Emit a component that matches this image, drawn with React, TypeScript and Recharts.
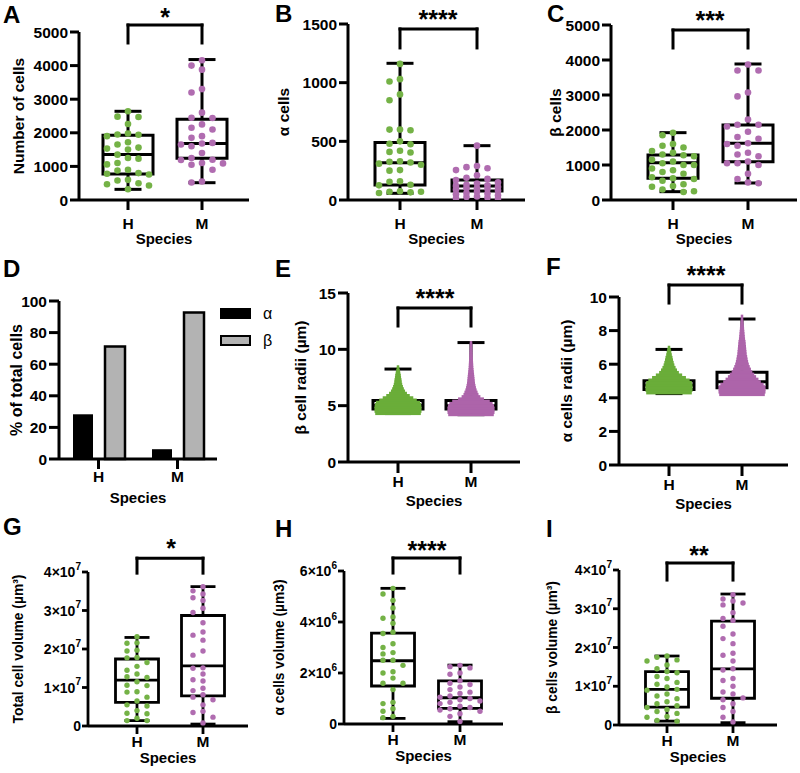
import React from "react";
import {
  ComposedChart,
  BarChart,
  Bar,
  XAxis,
  YAxis,
  Scatter,
  ReferenceArea,
  ReferenceLine,
  Legend,
} from "recharts";

const FONT = '"Liberation Sans", Arial, Helvetica, sans-serif';
const GREEN = "#74b246";
const PURPLE = "#b06cb0";
const GREEN_FILL = "#6aad39";
const PURPLE_FILL = "#ad64aa";
const GRAY = "#b3b3b3";

const SPECIES = ["H", "M"];

// box stats are [min, q1, median, q3, max]

// A - number of cells
const A_H = [2640, 2480, 2470, 2260, 1980, 1950, 1940, 1900, 1720, 1650, 1560, 1530, 1500, 1350, 1250, 1230, 1100, 1060, 900, 880, 800, 780, 760, 600, 580, 500, 470, 430, 320];
const A_M = [4160, 4000, 3880, 3300, 3200, 2600, 2450, 2440, 2250, 2150, 2100, 1900, 1850, 1700, 1680, 1650, 1600, 1400, 1250, 1200, 1190, 1100, 1090, 1050, 900, 550, 520];
const A_H_BOX = [317, 772, 1356, 1930, 2640];
const A_M_BOX = [515, 1240, 1680, 2400, 4180];

// B - alpha cells
const B_H = [1160, 1030, 1010, 900, 850, 600, 600, 595, 500, 480, 475, 420, 410, 405, 330, 325, 320, 310, 300, 255, 250, 160, 155, 130, 125, 75, 70, 70, 65, 60];
const B_M = [463, 290, 280, 270, 255, 210, 190, 180, 170, 150, 140, 130, 125, 120, 110, 100, 100, 95, 90, 80, 70, 60, 55, 50, 40, 30, 25, 20, 15, 10];
const B_H_BOX = [57, 128, 318, 489, 1165];
const B_M_BOX = [5, 77, 119, 170, 463];

// C - beta cells
const C_H = [1920, 1850, 1600, 1550, 1500, 1400, 1350, 1300, 1280, 1250, 1150, 1100, 1050, 1000, 1000, 900, 850, 800, 750, 650, 620, 600, 550, 450, 400, 380, 300, 250, 230];
const C_M = [3870, 3700, 3700, 3070, 2960, 2300, 2150, 2150, 2100, 1950, 1800, 1750, 1620, 1600, 1550, 1350, 1300, 1250, 1100, 1050, 1050, 1000, 750, 600, 500, 480];
const C_H_BOX = [238, 620, 1067, 1285, 1924];
const C_M_BOX = [486, 1095, 1619, 2143, 3886];

// D - % of total cells
const D_ALPHA = [28.3, 6.2];
const D_BETA = [71.2, 92.8];

// E - beta cell radii, dense dot clouds as relative width per level
const E_H_LEVELS = [4.3, 4.5, 4.7, 4.9, 5.1, 5.3, 5.5, 5.7, 5.9, 6.1, 6.3, 6.5, 6.7, 6.9, 7.1, 7.3, 7.5, 7.7, 7.9, 8.1, 8.3, 8.45];
const E_H_WIDTH = [0.97, 1, 1, 1, 0.98, 0.94, 0.8, 0.65, 0.5, 0.38, 0.3, 0.25, 0.21, 0.18, 0.16, 0.15, 0.13, 0.12, 0.1, 0.08, 0.06, 0.04];
const E_M_LEVELS = [4.2, 4.4, 4.6, 4.8, 5.0, 5.2, 5.4, 5.6, 5.8, 6.0, 6.2, 6.4, 6.6, 6.8, 7.0, 7.2, 7.4, 7.6, 7.8, 8.0, 8.2, 8.4, 8.6, 8.8, 9.0, 9.2, 9.4, 9.6, 9.8, 10.0, 10.2, 10.4, 10.6];
const E_M_WIDTH = [0.97, 1, 1, 1, 0.98, 0.92, 0.8, 0.55, 0.4, 0.32, 0.28, 0.24, 0.21, 0.19, 0.17, 0.16, 0.15, 0.14, 0.13, 0.12, 0.11, 0.1, 0.095, 0.09, 0.085, 0.08, 0.075, 0.07, 0.065, 0.06, 0.055, 0.05, 0.04];
const E_H_BOX = [4.3, 4.7, 5.0, 5.45, 8.25];
const E_M_BOX = [4.2, 4.7, 5.0, 5.45, 10.6];

// F - alpha cell radii
const F_H_LEVELS = [4.3, 4.45, 4.6, 4.75, 4.9, 5.05, 5.2, 5.35, 5.5, 5.65, 5.8, 5.95, 6.1, 6.25, 6.4, 6.55, 6.7, 6.85, 7.0];
const F_H_WIDTH = [0.97, 1, 1, 1, 0.97, 0.88, 0.72, 0.56, 0.42, 0.34, 0.28, 0.23, 0.2, 0.17, 0.15, 0.12, 0.1, 0.08, 0.05];
const F_M_LEVELS = [4.2, 4.35, 4.5, 4.65, 4.8, 4.95, 5.1, 5.25, 5.4, 5.55, 5.7, 5.85, 6.0, 6.15, 6.3, 6.45, 6.6, 6.75, 6.9, 7.05, 7.2, 7.35, 7.5, 7.65, 7.8, 7.95, 8.1, 8.25, 8.4, 8.55, 8.7, 8.85];
const F_M_WIDTH = [0.97, 1, 1, 1, 0.92, 0.8, 0.7, 0.6, 0.52, 0.44, 0.38, 0.33, 0.29, 0.26, 0.24, 0.22, 0.2, 0.19, 0.18, 0.17, 0.16, 0.15, 0.13, 0.12, 0.11, 0.1, 0.09, 0.08, 0.07, 0.06, 0.05, 0.04];
const F_H_BOX = [4.25, 4.5, 4.75, 5.02, 6.88];
const F_M_BOX = [4.2, 4.6, 4.96, 5.52, 8.69];

// G - total cell volume
const G_H = [23.2e6, 21.6e6, 21.5e6, 19.7e6, 19.5e6, 17.8e6, 17.7e6, 16.5e6, 15.5e6, 14.5e6, 13.5e6, 12.8e6, 12.6e6, 11.5e6, 10.6e6, 10.5e6, 8.9e6, 8.8e6, 7.5e6, 6.5e6, 5.5e6, 5.2e6, 4.0e6, 3.3e6, 3.2e6, 2.0e6, 1.4e6, 1.4e6];
const G_M = [36.2e6, 35.1e6, 34.3e6, 33.3e6, 32.6e6, 30.6e6, 29.5e6, 26.8e6, 24.4e6, 23.6e6, 22.3e6, 19.5e6, 18.4e6, 15.1e6, 15.0e6, 13.5e6, 12.0e6, 11.7e6, 9.8e6, 9.2e6, 8.1e6, 7.5e6, 6.8e6, 5.5e6, 3.8e6, 3.5e6, 2.3e6, 0.8e6];
const G_H_BOX = [1.4e6, 6.15e6, 11.9e6, 17.4e6, 23.0e6];
const G_M_BOX = [0.5e6, 7.8e6, 15.6e6, 28.7e6, 36.2e6];

// H - alpha cells volume
const H_H = [5.32e6, 5.1e6, 4.85e6, 4.55e6, 4.2e6, 4.15e6, 3.95e6, 3.6e6, 3.55e6, 3.15e6, 3.0e6, 2.8e6, 2.75e6, 2.5e6, 2.5e6, 2.3e6, 2.05e6, 2.0e6, 1.8e6, 1.6e6, 1.6e6, 1.35e6, 0.85e6, 0.8e6, 0.6e6, 0.5e6, 0.3e6, 0.25e6];
const H_M = [2.3e6, 2.25e6, 2.2e6, 2.0e6, 1.95e6, 1.7e6, 1.6e6, 1.55e6, 1.45e6, 1.35e6, 1.25e6, 1.2e6, 1.1e6, 1.05e6, 1.0e6, 0.95e6, 0.9e6, 0.85e6, 0.8e6, 0.7e6, 0.65e6, 0.6e6, 0.55e6, 0.5e6, 0.4e6, 0.3e6, 0.1e6];
const H_H_BOX = [0.22e6, 1.49e6, 2.48e6, 3.56e6, 5.32e6];
const H_M_BOX = [0.09e6, 0.61e6, 1.03e6, 1.69e6, 2.31e6];

// I - beta cells volume
const I_H = [17.8e6, 17.5e6, 16.8e6, 16.5e6, 15.5e6, 14.5e6, 13.8e6, 13.5e6, 12.5e6, 12.0e6, 11.0e6, 10.5e6, 9.8e6, 9.2e6, 9.0e6, 8.0e6, 7.5e6, 6.8e6, 6.0e6, 5.5e6, 5.0e6, 4.5e6, 4.0e6, 3.5e6, 3.0e6, 2.2e6, 2.0e6, 1.2e6, 1.0e6];
const I_M = [33.6e6, 32.5e6, 32.0e6, 31.5e6, 31.0e6, 29.0e6, 27.5e6, 27.0e6, 25.5e6, 23.5e6, 22.3e6, 21.0e6, 18.5e6, 18.0e6, 16.5e6, 14.5e6, 14.2e6, 12.0e6, 11.5e6, 10.0e6, 8.5e6, 8.0e6, 7.0e6, 6.5e6, 5.5e6, 4.5e6, 3.5e6, 2.0e6, 0.8e6];
const I_H_BOX = [1.0e6, 4.6e6, 9.2e6, 13.8e6, 17.8e6];
const I_M_BOX = [0.6e6, 6.9e6, 14.5e6, 26.8e6, 33.8e6];

type RowStyle = {
  tickFont: number; labelFont: number; yTick: number; yGap: number; xTick: number; xGap: number;
  speciesDy: number; stroke: number; boxW: number; capW: number; r: number; colPx: number;
};

const ROW1: RowStyle = { tickFont: 15.5, labelFont: 15.5, yTick: 9, yGap: 2, xTick: 10, xGap: 8, speciesDy: 44, stroke: 3, boxW: 50, capW: 27, r: 3.3, colPx: 10.5 };
const ROW2: RowStyle = { tickFont: 15.5, labelFont: 15.5, yTick: 10, yGap: 2, xTick: 11, xGap: 3, speciesDy: 44, stroke: 3, boxW: 50, capW: 27, r: 3.3, colPx: 10.5 };
const ROW3: RowStyle = { tickFont: 14, labelFont: 13.8, yTick: 6, yGap: 1, xTick: 8, xGap: 2, speciesDy: 37, stroke: 2.8, boxW: 43, capW: 25, r: 2.7, colPx: 10 };

type Dense = { levels: number[]; widths: number[] };
type Panel = {
  id: string; colX: number; rowY: number;
  plot: [number, number, number, number];
  hX: number; mX: number;
  yMax: number; yTicks: number[]; sci?: boolean;
  yLabel: string; labelX: number;
  pts?: [number[], number[]]; maxCol?: [number, number];
  dense?: [Dense, Dense]; denseStep?: number;
  boxes: [number[], number[]];
  bracket: [number, number];
  row: RowStyle;
};

const PANELS: Panel[] = [
  { id: "A", colX: 0, rowY: 0, plot: [79, 249, 32, 200], hX: 128, mX: 202, yMax: 5000, yTicks: [0, 1000, 2000, 3000, 4000, 5000], yLabel: "Number of cells", labelX: 18, pts: [A_H, A_M], maxCol: [2, 2], boxes: [A_H_BOX, A_M_BOX], bracket: [5208, 4673], row: ROW1 },
  { id: "B", colX: 265, rowY: 0, plot: [348, 525, 24, 200], hX: 400, mX: 477, yMax: 1500, yTicks: [0, 500, 1000, 1500], yLabel: "α cells", labelX: 283, pts: [B_H, B_M], maxCol: [2, 2], boxes: [B_H_BOX, B_M_BOX], bracket: [1458, 1296], row: ROW1 },
  { id: "C", colX: 530, rowY: 0, plot: [611, 797, 25, 200], hX: 673, mX: 748, yMax: 5000, yTicks: [0, 1000, 2000, 3000, 4000, 5000], yLabel: "β cells", labelX: 555, pts: [C_H, C_M], maxCol: [2, 2], boxes: [C_H_BOX, C_M_BOX], bracket: [4857, 4343], row: ROW1 },
  { id: "E", colX: 265, rowY: 250, plot: [348, 520, 293, 462], hX: 398, mX: 471, yMax: 15, yTicks: [0, 5, 10, 15], yLabel: "β cell radii (µm)", labelX: 300, dense: [{ levels: E_H_LEVELS, widths: E_H_WIDTH }, { levels: E_M_LEVELS, widths: E_M_WIDTH }], denseStep: 0.2, boxes: [E_H_BOX, E_M_BOX], bracket: [13.67, 12.07], row: ROW2 },
  { id: "F", colX: 530, rowY: 250, plot: [619, 788, 297, 465], hX: 669, mX: 742, yMax: 10, yTicks: [0, 2, 4, 6, 8, 10], yLabel: "α cells radii (µm)", labelX: 566, dense: [{ levels: F_H_LEVELS, widths: F_H_WIDTH }, { levels: F_M_LEVELS, widths: F_M_WIDTH }], denseStep: 0.15, boxes: [F_H_BOX, F_M_BOX], bracket: [10.71, 9.64], row: ROW2 },
  { id: "G", colX: 0, rowY: 510, plot: [88, 248, 572, 726], hX: 137, mX: 203, yMax: 4e7, yTicks: [0, 1e7, 2e7, 3e7, 4e7], sci: true, yLabel: "Total cell volume (µm³)", labelX: 18.5, pts: [G_H, G_M], maxCol: [1, 1], boxes: [G_H_BOX, G_M_BOX], bracket: [43.6e6, 39.7e6], row: ROW3 },
  { id: "H", colX: 265, rowY: 510, plot: [344, 503, 571, 724], hX: 393, mX: 460, yMax: 6e6, yTicks: [0, 2e6, 4e6, 6e6], sci: true, yLabel: "α cells volume (µm3)", labelX: 279, pts: [H_H, H_M], maxCol: [1, 2], boxes: [H_H_BOX, H_M_BOX], bracket: [6.51e6, 5.92e6], row: ROW3 },
  { id: "I", colX: 530, rowY: 510, plot: [619, 777, 570, 725], hX: 667, mX: 733, yMax: 4e7, yTicks: [0, 1e7, 2e7, 3e7, 4e7], sci: true, yLabel: "β cells volume (µm³)", labelX: 552, pts: [I_H, I_M], maxCol: [2, 1], boxes: [I_H_BOX, I_M_BOX], bracket: [41.8e6, 37.4e6], row: ROW3 },
];

const LETTERS = [
  { t: "A", x: 3, y: 23 }, { t: "B", x: 275, y: 22 }, { t: "C", x: 547, y: 22 },
  { t: "D", x: 3, y: 277 }, { t: "E", x: 275, y: 277 }, { t: "F", x: 546, y: 275 },
  { t: "G", x: 3, y: 535 }, { t: "H", x: 275, y: 537 }, { t: "I", x: 546, y: 537 },
];

const STARS = [
  { t: "*", x: 165, y: 12 }, { t: "****", x: 438, y: 14 }, { t: "***", x: 710, y: 15 },
  { t: "****", x: 435, y: 293 }, { t: "****", x: 706, y: 270 },
  { t: "*", x: 171, y: 543 }, { t: "****", x: 427, y: 545 }, { t: "**", x: 699, y: 550 },
];

// column-aligned swarm, like a scatter dot plot; crowded rows overlap
function swarm(values: number[], pxPerY: number, colPx: number, minGap: number, maxCol: number) {
  const order = values.map((v, i) => [v, i]).sort((a, b) => b[0] - a[0]);
  const placed: { c: number; py: number }[] = [];
  const cols = new Array(values.length).fill(0);
  const cand: number[] = [0];
  for (let k = 1; k <= maxCol; k++) cand.push(-k, k);
  for (const [v, i] of order) {
    const py = v * pxPerY;
    let best = 0;
    let bestD = -1;
    for (const c of cand) {
      const d = placed.filter((q) => q.c === c).reduce((m, q) => Math.min(m, Math.abs(q.py - py)), Infinity);
      if (d >= minGap) { best = c; bestD = d; break; }
      if (d > bestD) { best = c; bestD = d; }
    }
    placed.push({ c: best, py });
    cols[i] = best;
  }
  return cols.map((c) => c * colPx);
}

function BoxPanel({ p }: { p: Panel }) {
  const rs = p.row;
  const [pl, pr, pt, pb] = p.plot;
  const YW = pl - p.colX;
  const TOP = pt - p.rowY;
  const XH = 60;
  const RIGHT = 4;
  const plotW = pr - pl;
  const plotH = pb - pt;
  const width = YW + plotW + RIGHT;
  const height = TOP + plotH + XH;
  const unit = p.mX - p.hX;
  const xLo = 1 - (p.hX - pl) / unit;
  const xHi = 2 + (pr - p.mX) / unit;
  const pxPerY = plotH / p.yMax;
  const bw = rs.boxW / 2 / unit;
  const cw = rs.capW / 2 / unit;
  const line = { stroke: "#000", strokeWidth: rs.stroke };
  const colors = [GREEN, PURPLE];
  const fills = [GREEN_FILL, PURPLE_FILL];

  const boxEls: React.ReactNode[] = [];
  p.boxes.forEach((b, gi) => {
    const c = gi + 1;
    const [mn, q1, md, q3, mx] = b;
    boxEls.push(
      <ReferenceArea key={`ba${gi}`} x1={c - bw} x2={c + bw} y1={q1} y2={q3} fill="#fff" fillOpacity={0} stroke="#000" strokeWidth={rs.stroke} strokeOpacity={1} />,
      <ReferenceLine key={`bm${gi}`} segment={[{ x: c - bw, y: md }, { x: c + bw, y: md }]} {...line} />,
      <ReferenceLine key={`bu${gi}`} segment={[{ x: c, y: q3 }, { x: c, y: mx }]} {...line} />,
      <ReferenceLine key={`bl${gi}`} segment={[{ x: c, y: q1 }, { x: c, y: mn }]} {...line} />,
      <ReferenceLine key={`cu${gi}`} segment={[{ x: c - cw, y: mx }, { x: c + cw, y: mx }]} {...line} />,
      <ReferenceLine key={`cl${gi}`} segment={[{ x: c - cw, y: mn }, { x: c + cw, y: mn }]} {...line} />
    );
  });

  const series: React.ReactNode[] = [];
  if (p.pts) {
    p.pts.forEach((vals, gi) => {
      const mc = p.maxCol ? p.maxCol[gi] : 2;
      const offs = swarm(vals, pxPerY, rs.colPx, rs.r * 2 + 0.5, mc);
      const data = vals.map((v, i) => ({ x: gi + 1 + offs[i] / unit, y: v }));
      series.push(
        <Scatter
          key={`s${gi}`}
          name={SPECIES[gi]}
          data={data}
          isAnimationActive={false}
          shape={(sp: any) => <circle cx={sp.cx} cy={sp.cy} r={rs.r} fill={colors[gi]} />}
        />
      );
    });
  }
  if (p.dense) {
    const hpx = (p.denseStep || 0.2) * pxPerY + 0.8;
    const maxW = rs.boxW - 3;
    p.dense.forEach((d, gi) => {
      const data = d.levels.map((y, i) => ({ x: gi + 1, y, w: d.widths[i] }));
      series.push(
        <Scatter
          key={`d${gi}`}
          name={SPECIES[gi]}
          data={data}
          isAnimationActive={false}
          shape={(sp: any) => {
            const w = Math.max(2.5, sp.payload.w * maxW);
            return <rect x={sp.cx - w / 2} y={sp.cy - hpx / 2} width={w} height={hpx} fill={fills[gi]} />;
          }}
        />
      );
    });
  }

  const [bt, bb] = p.bracket;
  const br = { ifOverflow: "visible" as const, stroke: "#000", strokeWidth: 3, strokeLinecap: "square" as const };

  const yTick = (tp: any) => {
    const v = tp.payload.value;
    const common = { x: tp.x, y: tp.y, textAnchor: "end" as const, dominantBaseline: "central" as const, fontFamily: FONT, fontWeight: 700, fontSize: rs.tickFont, fill: "#000" };
    if (!p.sci || v === 0) return <text {...common}>{v}</text>;
    const exp = Math.floor(Math.log10(v) + 1e-9);
    const mant = Math.round(v / Math.pow(10, exp));
    return (
      <text {...common}>
        {mant}×10<tspan dy={-6.5} fontSize={rs.tickFont * 0.72}>{exp}</tspan>
      </text>
    );
  };

  return (
    <div style={{ position: "absolute", left: p.colX, top: p.rowY }}>
      <ComposedChart width={width} height={height} margin={{ top: TOP, right: RIGHT, bottom: 0, left: 0 }}>
        <XAxis
          type="number"
          dataKey="x"
          domain={[xLo, xHi]}
          allowDataOverflow
          ticks={[1, 2]}
          tickFormatter={(v: number) => SPECIES[Math.round(v) - 1]}
          height={XH}
          axisLine={{ stroke: "#000", strokeWidth: rs.stroke }}
          tickLine={{ stroke: "#000", strokeWidth: rs.stroke }}
          tickSize={rs.xTick}
          tickMargin={rs.xGap}
          tick={{ fill: "#000", fontFamily: FONT, fontWeight: 700, fontSize: 15.5 }}
          label={() => (
            <text x={YW + plotW / 2} y={TOP + plotH + rs.speciesDy} textAnchor="middle" fontFamily={FONT} fontWeight={700} fontSize={15} fill="#000">
              Species
            </text>
          )}
        />
        <YAxis
          type="number"
          dataKey="y"
          domain={[0, p.yMax]}
          allowDataOverflow
          ticks={p.yTicks}
          width={YW}
          axisLine={{ stroke: "#000", strokeWidth: rs.stroke }}
          tickLine={{ stroke: "#000", strokeWidth: rs.stroke }}
          tickSize={rs.yTick}
          tickMargin={rs.yGap}
          tick={yTick}
          label={() => {
            const lx = p.labelX - p.colX;
            const ly = TOP + plotH / 2;
            return (
              <text x={lx} y={ly} transform={`rotate(-90 ${lx} ${ly})`} textAnchor="middle" dominantBaseline="central" fontFamily={FONT} fontWeight={700} fontSize={rs.labelFont} fill="#000">
                {p.yLabel}
              </text>
            );
          }}
        />
        {boxEls}
        {series}
        <ReferenceLine segment={[{ x: 1, y: bt }, { x: 2, y: bt }]} {...br} />
        <ReferenceLine segment={[{ x: 1, y: bt }, { x: 1, y: bb }]} {...br} />
        <ReferenceLine segment={[{ x: 2, y: bt }, { x: 2, y: bb }]} {...br} />
      </ComposedChart>
    </div>
  );
}

function DLegend(props: any) {
  const payload = props.payload || [];
  return (
    <div style={{ fontFamily: FONT, fontSize: 16 }}>
      {payload.map((e: any) => (
        <div key={e.value} style={{ display: "flex", alignItems: "center", height: 27 }}>
          <span
            style={{
              display: "inline-block",
              width: 31,
              height: 11,
              boxSizing: "border-box",
              background: e.color,
              border: "2.5px solid #000",
            }}
          />
          <span style={{ marginLeft: 12, color: "#000" }}>{e.value}</span>
        </div>
      ))}
    </div>
  );
}

function DPanel() {
  const data = SPECIES.map((s, i) => ({ species: s, alpha: D_ALPHA[i], beta: D_BETA[i] }));
  const YW = 59;
  const TOP = 51;
  const plotW = 158;
  const plotH = 158;
  const RIGHT = 75;
  const XH = 60;
  return (
    <div style={{ position: "absolute", left: 0, top: 250 }}>
      <BarChart
        width={YW + plotW + RIGHT}
        height={TOP + plotH + XH}
        data={data}
        margin={{ top: TOP, right: RIGHT, bottom: 0, left: 0 }}
        barSize={20}
        barGap={12}
      >
        <XAxis
          dataKey="species"
          height={XH}
          axisLine={{ stroke: "#000", strokeWidth: 3 }}
          tickLine={{ stroke: "#000", strokeWidth: 3 }}
          tickSize={10}
          tickMargin={2}
          tick={{ fill: "#000", fontFamily: FONT, fontWeight: 700, fontSize: 15.5 }}
          label={() => (
            <text x={YW + plotW / 2} y={TOP + plotH + 44} textAnchor="middle" fontFamily={FONT} fontWeight={700} fontSize={15} fill="#000">
              Species
            </text>
          )}
        />
        <YAxis
          domain={[0, 100]}
          ticks={[0, 20, 40, 60, 80, 100]}
          width={YW}
          axisLine={{ stroke: "#000", strokeWidth: 3 }}
          tickLine={{ stroke: "#000", strokeWidth: 3 }}
          tickSize={10}
          tickMargin={2}
          tick={{ fill: "#000", fontFamily: FONT, fontWeight: 700, fontSize: 15.5 }}
          label={() => {
            const lx = 16.5;
            const ly = TOP + plotH / 2;
            return (
              <text x={lx} y={ly} transform={`rotate(-90 ${lx} ${ly})`} textAnchor="middle" dominantBaseline="central" fontFamily={FONT} fontWeight={700} fontSize={16} fill="#000">
                % of total cells
              </text>
            );
          }}
        />
        <Bar dataKey="alpha" name="α" fill="#000" isAnimationActive={false} />
        <Bar dataKey="beta" name="β" fill={GRAY} stroke="#000" strokeWidth={2.5} isAnimationActive={false} />
        <Legend
          layout="vertical"
          align="center"
          verticalAlign="middle"
          content={<DLegend />}
          wrapperStyle={{ left: 220, top: 50, width: 60 }}
        />
      </BarChart>
    </div>
  );
}

export default function App() {
  return (
    <div style={{ position: "absolute", left: 0, top: 0, width: 800, height: 773, background: "#fff", overflow: "hidden" }}>
      {PANELS.map((p) => (
        <BoxPanel key={p.id} p={p} />
      ))}
      <DPanel />
      <svg width={800} height={773} style={{ position: "absolute", left: 0, top: 0, pointerEvents: "none" }}>
        {LETTERS.map((l) => (
          <text key={l.t} x={l.x} y={l.y} fontFamily={FONT} fontWeight={700} fontSize={24} fill="#000">
            {l.t}
          </text>
        ))}
        {STARS.map((s, i) => (
          <text key={i} x={s.x} y={s.y + 14} textAnchor="middle" fontFamily={FONT} fontWeight={700} fontSize={25} fill="#000">
            {s.t}
          </text>
        ))}
      </svg>
    </div>
  );
}
